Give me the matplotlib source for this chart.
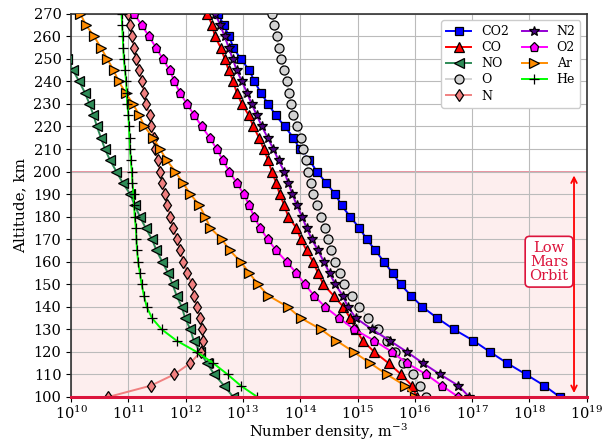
import matplotlib
matplotlib.use("Agg")
import matplotlib.pyplot as plt
import numpy as np

plt.rcParams['font.family'] = ['DejaVu Serif']
plt.rcParams['mathtext.fontset'] = 'dejavuserif'

# altitude grid, km (top to bottom)
alt = [270, 265, 260, 255, 250, 245, 240, 235, 230, 225, 220, 215, 210, 205, 200,
       195, 190, 185, 180, 175, 170, 165, 160, 155, 150, 145, 140, 135, 130, 125,
       120, 115, 110, 105, 100]

# log10 of number density, m^-3
co2 = [12.57, 12.66, 12.76, 12.83, 12.96, 13.11, 13.20, 13.31, 13.44, 13.57, 13.73, 13.88,
       13.99, 14.16, 14.29, 14.45, 14.61, 14.72, 14.87, 15.03, 15.16, 15.31, 15.46, 15.61,
       15.75, 15.93, 16.13, 16.39, 16.68, 17.02, 17.31, 17.61, 17.94, 18.26, 18.53]
co = [12.38, 12.46, 12.51, 12.61, 12.68, 12.75, 12.83, 12.89, 12.98, 13.10, 13.18, 13.28,
      13.36, 13.44, 13.50, 13.58, 13.64, 13.72, 13.79, 13.93, 14.01, 14.11, 14.22, 14.31,
      14.40, 14.58, 14.75, 14.87, 14.97, 15.09, 15.29, 15.54, 15.76, 15.95, 16.03]
no_alt = alt[4:]
no = [9.93, 10.03, 10.14, 10.24, 10.32, 10.39, 10.45, 10.52, 10.59, 10.68, 10.79, 10.90,
      11.03, 11.11, 11.20, 11.30, 11.41, 11.49, 11.59, 11.69, 11.77, 11.84, 11.93, 11.99,
      12.08, 12.14, 12.25, 12.37, 12.50, 12.67, 12.83]
o = [13.50, 13.54, 13.59, 13.62, 13.66, 13.72, 13.76, 13.80, 13.83, 13.88, 13.95, 14.01,
     14.05, 14.10, 14.14, 14.19, 14.23, 14.30, 14.37, 14.43, 14.49, 14.54, 14.61, 14.69,
     14.77, 14.90, 15.03, 15.19, 15.35, 15.51, 15.65, 15.80, 15.97, 16.09, 16.20]
n = [11.00, 11.03, 11.06, 11.09, 11.14, 11.19, 11.23, 11.27, 11.31, 11.37, 11.40, 11.44,
     11.47, 11.51, 11.55, 11.59, 11.63, 11.68, 11.73, 11.78, 11.85, 11.90, 11.96, 12.02,
     12.11, 12.14, 12.19, 12.25, 12.29, 12.31, 12.26, 12.08, 11.80, 11.39, 10.65]
n2 = [12.52, 12.60, 12.68, 12.75, 12.82, 12.89, 12.98, 13.07, 13.15, 13.24, 13.33, 13.43,
      13.53, 13.62, 13.72, 13.79, 13.86, 13.94, 14.03, 14.11, 14.20, 14.31, 14.41, 14.51,
      14.61, 14.74, 14.83, 14.97, 15.25, 15.56, 15.86, 16.14, 16.44, 16.76, 16.95]
o2 = [11.10, 11.23, 11.36, 11.48, 11.60, 11.72, 11.80, 11.90, 12.02, 12.15, 12.28, 12.42,
      12.54, 12.65, 12.76, 12.89, 13.01, 13.11, 13.19, 13.30, 13.43, 13.58, 13.76, 13.93,
      14.08, 14.24, 14.43, 14.68, 14.94, 15.29, 15.60, 15.86, 16.20, 16.47, 16.76]
ar = [10.16, 10.26, 10.40, 10.52, 10.63, 10.74, 10.83, 10.95, 11.08, 11.19, 11.28, 11.43,
      11.55, 11.67, 11.82, 11.95, 12.08, 12.24, 12.34, 12.43, 12.63, 12.77, 12.96, 13.11,
      13.26, 13.44, 13.78, 14.01, 14.36, 14.63, 14.93, 15.22, 15.51, 15.83, 16.00]
he = [10.88, 10.89, 10.90, 10.91, 10.92, 10.94, 10.96, 10.97, 10.98, 11.00, 11.01, 11.02,
      11.03, 11.04, 11.06, 11.07, 11.09, 11.10, 11.11, 11.13, 11.14, 11.15, 11.17, 11.20,
      11.23, 11.27, 11.32, 11.41, 11.58, 11.84, 12.19, 12.48, 12.73, 12.96, 13.25]

species = [
    ('CO2', alt, co2, 'blue', 's', 'blue', 6),
    ('CO', alt, co, 'red', '^', 'red', 6.5),
    ('NO', no_alt, no, 'seagreen', '<', 'seagreen', 6.5),
    ('O', alt, o, 'lightgray', 'o', 'lightgray', 6.5),
    ('N', alt, n, 'lightcoral', 'd', 'lightcoral', 6.5),
    ('N2', alt, n2, 'darkviolet', '*', 'indigo', 7),
    ('O2', alt, o2, 'magenta', 'p', 'magenta', 6.5),
    ('Ar', alt, ar, 'darkorange', '>', 'darkorange', 6.5),
    ('He', alt, he, 'lime', '+', 'black', 6.5),
]

fig = plt.figure(figsize=(6.08, 4.45), dpi=100)
ax = fig.add_axes([0.117, 0.108, 0.848, 0.861])

ax.axhspan(100, 200, color='#fdeeee', zorder=0)
ax.axhline(200, color='#e8808f', lw=1.2, zorder=1)

for name, a, vals, col, mk, face, ms in species:
    ax.plot(10 ** np.array(vals), a, color=col, lw=1.4, marker=mk, ms=ms,
            mfc=face, mec='black', mew=0.9, label=name, zorder=3)

ax.axhline(100, color='crimson', lw=2.2, zorder=4, clip_on=False)

ax.annotate('', xy=(6e18, 100.5), xytext=(6e18, 199.5),
            arrowprops=dict(arrowstyle='<->', color='red', lw=1.3), zorder=5)
ax.text(2.2e18, 160, 'Low\nMars\nOrbit', color='crimson', fontsize=10.5,
        ha='center', va='center', linespacing=1.0,
        bbox=dict(boxstyle='round,pad=0.3', fc='white', ec='crimson', lw=1.2), zorder=6)

ax.set_xscale('log')
ax.set_xlim(1e10, 1e19)
ax.set_ylim(100, 270)
ax.set_yticks(range(100, 271, 10))
ax.set_xticks([10.0 ** k for k in range(10, 20)])
ax.grid(True, which='major', color='#bbbbbb', lw=0.8, zorder=0)
ax.grid(True, which='minor', axis='x', color='#e6e6e6', lw=0.6, zorder=0)
ax.tick_params(axis='both', which='major', labelsize=10.5)
ax.tick_params(axis='x', which='major', pad=2)
ax.tick_params(axis='x', which='minor', direction='in', length=3)
for s in ax.spines.values():
    s.set_color('#333333')
    s.set_linewidth(1.2)

ax.set_xlabel('Number density, m$^{-3}$', fontsize=10.5, labelpad=0)
ax.set_ylabel('Altitude, km', fontsize=11)

ax.legend(ncol=2, loc='upper right', fontsize=9, framealpha=1.0,
          handlelength=2.0, columnspacing=1.0, borderaxespad=0.5, labelspacing=0.25)

fig.savefig('out.png', dpi=100)
